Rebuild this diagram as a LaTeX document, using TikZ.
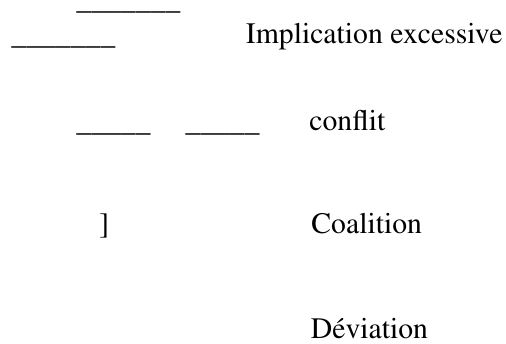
\documentclass[tikz,border=0pt]{standalone}
\usepackage[T1]{fontenc}
\usepackage{mathptmx}
\usepackage{tikz}

\begin{document}
\begin{tikzpicture}[
        x=0.5pt,y=-0.5pt,
        word/.style={anchor=base west,inner sep=0pt,font=\rmfamily\fontsize{14.85pt}{18pt}\selectfont},
        blank/.style={word,yshift=-0.75pt}
    ]

    \useasboundingbox (0,0) rectangle (506,343);

    \node[blank] (topline) at (76,8) {\_\_\_\_\_\_\_};
    \node[blank] (leftline) at (11,43) {\_\_\_\_\_\_\_};
    \node[word] (implication) at (245.5,43) {Implication excessive};

    \node[blank] (lineA) at (76,130) {\_\_\_\_\_};
    \node[blank] (lineB) at (185,130) {\_\_\_\_\_};
    \node[word] (conflit) at (309,130) {conflit};

    \node[word] (bracket) at (99,233) {]};
    \node[word] (coalition) at (311,233) {Coalition};

    \node[word] (deviation) at (310.5,338) {D\'eviation};

\end{tikzpicture}
\end{document}
